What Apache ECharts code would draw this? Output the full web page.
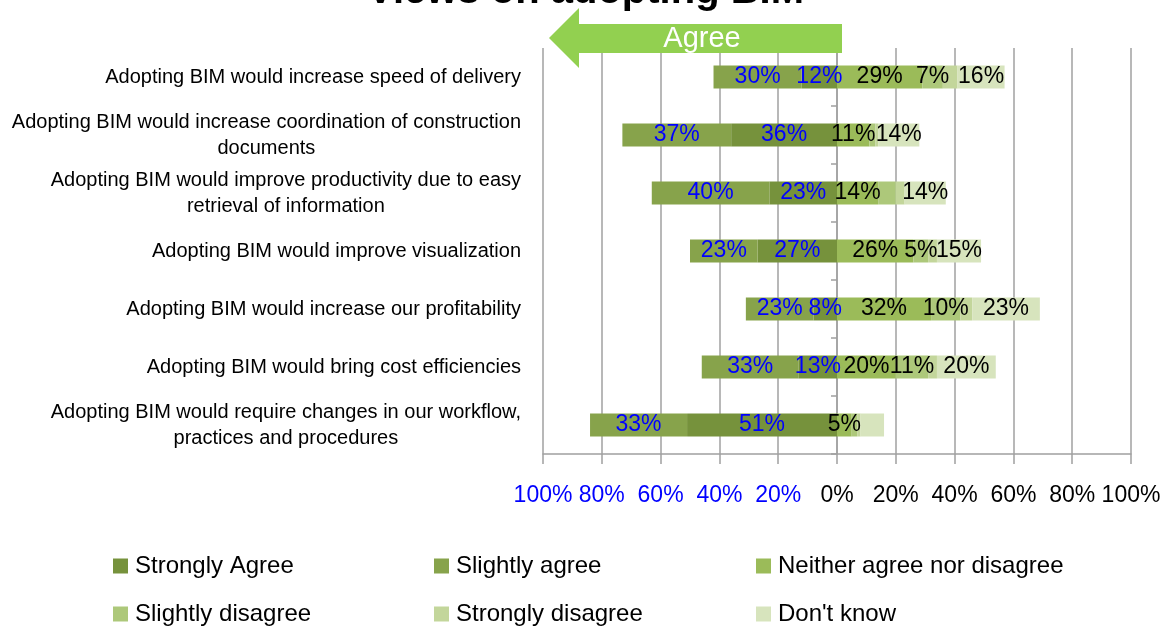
<!DOCTYPE html>
<html>
<head>
<meta charset="utf-8">
<title>Views on adopting BIM</title>
<script src="https://cdn.jsdelivr.net/npm/echarts@6/dist/echarts.min.js"></script>
<style>
html, body { margin: 0; padding: 0; background: #fff; }
#chart { width: 1171px; height: 627px; }
</style>
</head>
<body>
<div id="chart"></div>
<script>
/* categories, top to bottom */
var categories = [
    'Adopting BIM would increase speed of delivery',
    'Adopting BIM would increase coordination of construction\ndocuments',
    'Adopting BIM would improve productivity due to easy\nretrieval of information',
    'Adopting BIM would improve visualization',
    'Adopting BIM would increase our profitability',
    'Adopting BIM would bring cost efficiencies',
    'Adopting BIM would require changes in our workflow,\npractices and procedures'
];
/* percentages per answer */
var stronglyAgree    = [12, 36, 23, 27, 8, 13, 51];
var slightlyAgree    = [30, 37, 40, 23, 23, 33, 33];
var neither          = [29, 11, 14, 26, 32, 20, 5];
var slightlyDisagree = [7, 2, 6, 5, 10, 11, 2];
var stronglyDisagree = [5, 1, 3, 3, 4, 3, 1];
var dontKnow         = [16, 14, 14, 15, 23, 20, 8];
/* which bars carry a value label in the original */
var slightlyDisagreeLabelled = [true, false, false, true, true, true, false];
var stronglyDisagreeLabelled = [false, false, false, false, false, false, false];
var dontKnowLabelled         = [true, true, true, true, true, true, false];
/* x axis ticks */
var xMin = -100, xMax = 100, xStep = 20;

var FONT = '"Liberation Sans", Arial, sans-serif';
var GRID_GRAY = '#a0a0a0';

function barSeries(name, values, color, side, labelled) {
    return {
        name: name,
        type: 'bar',
        stack: 'total',
        barWidth: 23,
        itemStyle: { color: color },
        label: {
            show: true,
            position: 'inside',
            fontSize: 23,
            fontFamily: FONT,
            color: side < 0 ? '#0000ff' : '#000000',
            textBorderWidth: 0,
            formatter: function (p) { return Math.abs(p.value) + '%'; }
        },
        data: values.map(function (v, i) {
            var d = { value: v * side };
            if (labelled && !labelled[i]) d.label = { show: false };
            return d;
        })
    };
}

var chart = echarts.init(document.getElementById('chart'));
var legendBase = {
    orient: 'vertical',
    top: 554,
    padding: 0,
    icon: 'rect',
    itemWidth: 15,
    itemHeight: 15,
    itemGap: 24,
    textStyle: { fontSize: 24, lineHeight: 24, fontFamily: FONT, color: '#000', padding: [0, 0, 0, 2] }
};

chart.setOption({
    animation: false,
    title: {
        text: 'Views on adopting BIM',
        left: 'center',
        top: -33,
        textStyle: { fontSize: 40, fontWeight: 'bold', fontFamily: FONT, color: '#000' }
    },
    grid: { left: 543, right: 40, top: 48, bottom: 173, outerBoundsMode: 'none' },
    legend: [
        Object.assign({ left: 113, data: ['Strongly Agree', 'Slightly disagree'] }, legendBase),
        Object.assign({ left: 434, data: ['Slightly agree', 'Strongly disagree'] }, legendBase),
        Object.assign({ left: 756, data: ['Neither agree nor disagree', "Don't know"] }, legendBase)
    ],
    xAxis: {
        type: 'value',
        min: xMin,
        max: xMax,
        interval: xStep,
        axisLine: { show: true, onZero: false, lineStyle: { color: GRID_GRAY, width: 1.5 } },
        axisTick: { show: true, length: 10, lineStyle: { color: GRID_GRAY, width: 1.5 } },
        splitLine: { show: true, lineStyle: { color: GRID_GRAY, width: 1.5 } },
        axisLabel: {
            margin: 30,
            fontSize: 23,
            fontFamily: FONT,
            color: function (v) { return v < 0 ? '#0000ff' : '#000000'; },
            formatter: function (v) { return Math.abs(v) + '%'; }
        }
    },
    yAxis: [
        {
            type: 'category',
            inverse: true,
            data: categories,
            axisLine: { show: false, onZero: false },
            axisTick: { show: false },
            axisLabel: {
                margin: 22,
                fontSize: 20,
                fontFamily: FONT,
                color: '#000',
                formatter: function (v) {
                    return v.split('\n').map(function (l) { return '{c|' + l + '}'; }).join('\n');
                },
                rich: { c: { align: 'center', fontSize: 20, lineHeight: 26, fontFamily: FONT, color: '#000' } }
            }
        },
        {
            type: 'category',
            inverse: true,
            position: 'left',
            data: categories,
            axisLine: { show: true, onZero: true, lineStyle: { color: GRID_GRAY, width: 1.5 } },
            axisTick: { show: true, length: 6, lineStyle: { color: GRID_GRAY, width: 1.5 } },
            axisLabel: { show: false }
        }
    ],
    graphic: [
        {
            type: 'polygon',
            z: 100,
            shape: { points: [[549, 38], [579, 8], [579, 24], [842, 24], [842, 53], [579, 53], [579, 68]] },
            style: { fill: '#92d050' }
        },
        {
            type: 'text',
            z: 101,
            x: 702,
            y: 39,
            style: { text: 'Agree', fill: '#ffffff', font: '29px ' + FONT, align: 'center', verticalAlign: 'middle' }
        }
    ],
    series: [
        barSeries('Strongly Agree', stronglyAgree, '#76923c', -1),
        barSeries('Slightly agree', slightlyAgree, '#87a34b', -1),
        barSeries('Neither agree nor disagree', neither, '#9bbb59', 1),
        barSeries('Slightly disagree', slightlyDisagree, '#adc87a', 1, slightlyDisagreeLabelled),
        barSeries('Strongly disagree', stronglyDisagree, '#c3d69b', 1, stronglyDisagreeLabelled),
        barSeries("Don't know", dontKnow, '#d7e4bd', 1, dontKnowLabelled)
    ]
});
</script>
</body>
</html>
